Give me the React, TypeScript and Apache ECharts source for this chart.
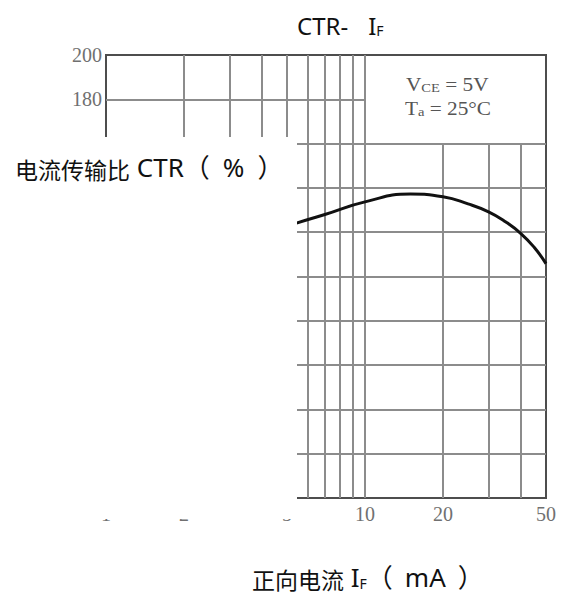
import React, { useEffect, useRef } from "react";
import * as echarts from "echarts";

// Data (forward current IF in mA, CTR in %)
const ifValues = [5, 5.4, 7, 10, 15, 20, 25, 30, 35, 40, 45, 50];
const ctrValues = [122.5, 124, 128, 133.7, 137.2, 136, 132.8, 129.2, 124.6, 119.4, 113.2, 105.8];

// Axis ticks and grid lines
const xTickLabels = [1, 2, 5, 10, 20, 50];
const xGridFull = [2, 3, 4, 5, 6, 7, 8, 9, 10];
const xGridShort = [20, 30, 40];
const yGridFull = [20, 40, 60, 80, 100, 120, 140, 160];
const yGridShort = [180];
const yShownLabels = [180, 200];

const titleMain = "CTR-";
const titleI = "I";
const titleSub = "F";
const yNameCjk = "电流传输比";
const yNameLatin = " CTR（";
const yNamePct = "%";
const yNameClose = "）";
const xNameCjk = "正向电流";
const xNameI = " I";
const xNameSub = "F";
const xNameOpen = "（";
const xNameUnit = "mA";
const xNameClose = "）";
const annotLine1 = ["V", "CE", " = 5V"];
const annotLine2 = ["T", "a", " = 25°C"];

const SANS = "'Noto Sans', 'Noto Sans CJK SC', sans-serif";
const CJK = "'Noto Sans CJK SC', sans-serif";
const SERIF = "'Liberation Serif', 'DejaVu Serif', serif";

export default function App() {
  const ref = useRef<HTMLDivElement>(null);

  useEffect(() => {
    if (!ref.current) return;
    const chart = echarts.init(ref.current, undefined, { renderer: "svg" });

    const gridColor = "#8c8c8c";
    const segLine = (a: [number, number], b: [number, number]) => [{ coord: a }, { coord: b }];
    const markData: any[] = [];
    xGridFull.forEach((x) => markData.push(segLine([x, 0], [x, 200])));
    xGridShort.forEach((x) => markData.push(segLine([x, 0], [x, 160])));
    yGridFull.forEach((y) => markData.push(segLine([1, y], [50, y])));
    yGridShort.forEach((y) => markData.push(segLine([1, y], [10, y])));

    const nameRich = {
      c: { fontSize: 23, fontFamily: CJK, fill: "#111111", lineHeight: 28, verticalAlign: "bottom" },
      l: { fontSize: 26, fontFamily: SANS, fill: "#111111", lineHeight: 28, verticalAlign: "bottom" },
      p: { fontSize: 26, fontFamily: SANS, fill: "#111111", lineHeight: 28, verticalAlign: "bottom", padding: [0, 13, 0, 13] },
      q: { fontSize: 26, fontFamily: SANS, fill: "#111111", lineHeight: 28, verticalAlign: "bottom", padding: [0, 12, 0, 12] },
      s: { fontSize: 14, fontFamily: SANS, fill: "#111111", lineHeight: 20, verticalAlign: "bottom" },
    };

    const option: any = {
      animation: false,
      backgroundColor: "#ffffff",
      grid: {
        left: 106,
        top: 55,
        right: 25,
        bottom: 96,
        show: true,
        borderColor: "#4d4d4d",
        borderWidth: 2,
        backgroundColor: "transparent",
      },
      xAxis: {
        type: "log",
        logBase: 10,
        min: 1,
        max: 50,
        axisLine: { show: true, lineStyle: { color: "#4d4d4d", width: 2 } },
        axisTick: { show: false },
        splitLine: { show: false },
        minorSplitLine: { show: false },
        axisLabel: {
          customValues: xTickLabels,
          formatter: (v: number) => String(Math.round(v)),
          fontFamily: SERIF,
          fontSize: 20,
          color: "#707070",
          margin: 6,
        },
      },
      yAxis: {
        type: "value",
        min: 0,
        max: 200,
        interval: 20,
        axisLine: { show: true, lineStyle: { color: "#4d4d4d", width: 2 } },
        axisTick: { show: false },
        splitLine: { show: false },
        axisLabel: {
          formatter: (v: number) => (yShownLabels.indexOf(v) >= 0 ? String(v) : ""),
          fontFamily: SERIF,
          fontSize: 20,
          color: "#707070",
          margin: 4,
        },
      },
      series: [
        {
          type: "line",
          data: [],
          z: 1,
          silent: true,
          markLine: {
            silent: true,
            symbol: ["none", "none"],
            label: { show: false },
            lineStyle: { color: gridColor, width: 2, type: "solid" },
            emphasis: { disabled: true },
            data: markData,
          },
        },
        {
          type: "line",
          data: ifValues.map((x, i) => [x, ctrValues[i]]),
          smooth: 0.5,
          showSymbol: false,
          symbol: "none",
          z: 5,
          lineStyle: { color: "#111111", width: 3 },
        },
      ],
      graphic: [
        {
          type: "rect",
          z: 100,
          shape: { x: 0, y: 137, width: 297, height: 382 },
          style: { fill: "#ffffff" },
        },
        {
          type: "text",
          z: 101,
          x: 15,
          y: 166,
          style: {
            text: `{c|${yNameCjk}}{l|${yNameLatin}}{p|${yNamePct}}{l|${yNameClose}}`,
            textAlign: "left",
            textVerticalAlign: "middle",
            rich: nameRich,
          },
        },
        {
          type: "text",
          z: 101,
          x: 252,
          y: 576,
          style: {
            text: `{c|${xNameCjk}}{l|${xNameI}}{s|${xNameSub}}{l|${xNameOpen}}{q|${xNameUnit}}{l|${xNameClose}}`,
            textAlign: "left",
            textVerticalAlign: "middle",
            rich: nameRich,
          },
        },
        {
          type: "text",
          z: 101,
          x: 297,
          y: 23,
          style: {
            text: `{m|${titleMain}}{i|${titleI}}{s|${titleSub}}`,
            textAlign: "left",
            textVerticalAlign: "middle",
            rich: {
              m: { fontSize: 24, fontFamily: SANS, fill: "#111111", lineHeight: 28, verticalAlign: "bottom" },
              i: { fontSize: 24, fontFamily: SANS, fill: "#111111", lineHeight: 28, verticalAlign: "bottom", padding: [0, 0, 0, 20] },
              s: { fontSize: 14, fontFamily: SANS, fill: "#111111", lineHeight: 20, verticalAlign: "bottom" },
            },
          },
        },
        {
          type: "text",
          z: 101,
          x: 406,
          y: 83,
          scaleX: 1.12,
          style: {
            text: `{m|${annotLine1[0]}}{s|${annotLine1[1]}}{m|${annotLine1[2]}}`,
            textAlign: "left",
            textVerticalAlign: "middle",
            rich: {
              m: { fontSize: 19, fontFamily: SERIF, fill: "#555555", lineHeight: 22, verticalAlign: "bottom" },
              s: { fontSize: 13, fontFamily: SERIF, fill: "#555555", lineHeight: 17, verticalAlign: "bottom" },
            },
          },
        },
        {
          type: "text",
          z: 101,
          x: 405,
          y: 107,
          scaleX: 1.12,
          style: {
            text: `{m|${annotLine2[0]}}{s|${annotLine2[1]}}{m|${annotLine2[2]}}`,
            textAlign: "left",
            textVerticalAlign: "middle",
            rich: {
              m: { fontSize: 19, fontFamily: SERIF, fill: "#555555", lineHeight: 22, verticalAlign: "bottom" },
              s: { fontSize: 13, fontFamily: SERIF, fill: "#555555", lineHeight: 17, verticalAlign: "bottom" },
            },
          },
        },
      ],
    };

    chart.setOption(option);
    return () => chart.dispose();
  }, []);

  return (
    <div
      ref={ref}
      style={{ position: "absolute", left: 0, top: 0, width: 571, height: 594, background: "#fff" }}
    />
  );
}
